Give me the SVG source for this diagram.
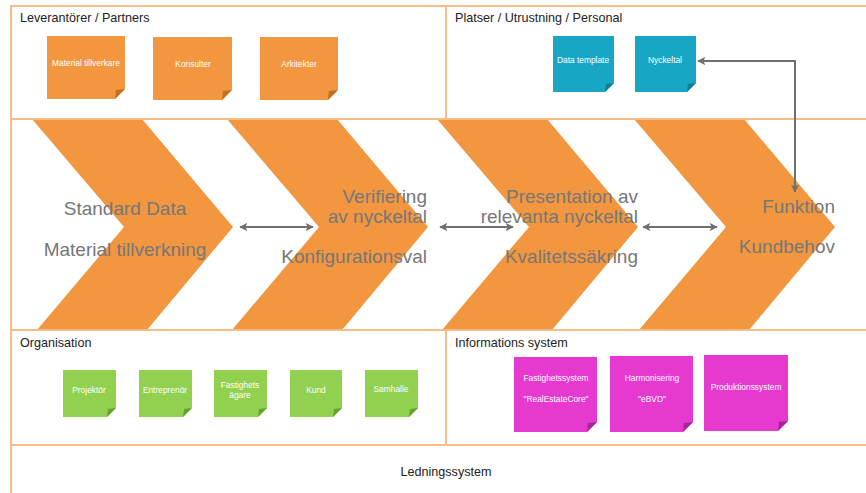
<svg xmlns="http://www.w3.org/2000/svg" width="866" height="493" viewBox="0 0 866 493">
  <style>
    .frame { fill: none; stroke: #f8bd86; stroke-width: 2; }
    .chev { fill: #f2963f; }
    .title { font-family: "Liberation Sans", Arial, sans-serif; font-size: 12.6px; fill: #222; }
    .big { font-family: "Liberation Sans", Arial, sans-serif; font-size: 19px; fill: #777; }
    .note-t { font-family: "Liberation Sans", Arial, sans-serif; font-size: 8.4px; fill: #fff; text-anchor: middle; }
    .orange { fill: #f2963f; }
    .orange-f { fill: #c0701f; }
    .teal { fill: #17a6c4; }
    .teal-f { fill: #0e7d94; }
    .green { fill: #92d050; }
    .green-f { fill: #64a32c; }
    .mag { fill: #e639d0; }
    .mag-f { fill: #a8229a; }
    .conn { fill: none; stroke: #707070; stroke-width: 2; }
  </style>
  <defs>
    <marker id="ah" viewBox="0 0 10 10" refX="9" refY="5" markerWidth="4" markerHeight="4" orient="auto-start-reverse" markerUnits="strokeWidth">
      <path d="M0,0 L10,5 L0,10 L2,5 z" fill="#707070"/>
    </marker>
    <path id="chevron" d="M0,119 L110,119 L201,227 L115,330 L5,330 L92,227 Z"/>
  </defs>

  <rect width="866" height="493" fill="#fff"/>

  <!-- chevron band -->
  <g id="chevrons">
    <use href="#chevron" class="chev" x="32"/>
    <use href="#chevron" class="chev" x="227"/>
    <use href="#chevron" class="chev" x="437"/>
    <use href="#chevron" class="chev" x="634"/>
  </g>

  <!-- section frame lines -->
  <g id="frame" class="frame">
    <line x1="11" y1="6" x2="866" y2="6"/>
    <line x1="11" y1="119" x2="866" y2="119"/>
    <line x1="11" y1="330" x2="866" y2="330"/>
    <line x1="11" y1="445" x2="866" y2="445"/>
    <line x1="11" y1="5" x2="11" y2="493"/>
    <line x1="446" y1="6" x2="446" y2="119"/>
    <line x1="446" y1="330" x2="446" y2="445"/>
  </g>

  <!-- section titles -->
  <g id="titles" class="title">
    <text x="20" y="22">Leverantörer / Partners</text>
    <text x="455" y="22">Platser / Utrustning / Personal</text>
    <text x="20" y="347">Organisation</text>
    <text x="455" y="347">Informations system</text>
    <text x="446" y="476" text-anchor="middle">Ledningssystem</text>
  </g>

  <!-- chevron labels -->
  <g id="step1" class="big" text-anchor="middle">
    <text x="125" y="215">Standard Data</text>
    <text x="125" y="256">Material tillverkning</text>
  </g>
  <g id="step2" class="big" text-anchor="end">
    <text x="427" y="203">Verifiering</text>
    <text x="427" y="223">av nyckeltal</text>
    <text x="427" y="263">Konfigurationsval</text>
  </g>
  <g id="step3" class="big" text-anchor="end">
    <text x="638" y="203">Presentation av</text>
    <text x="638" y="223">relevanta nyckeltal</text>
    <text x="638" y="263">Kvalitetssäkring</text>
  </g>
  <g id="step4" class="big" text-anchor="end">
    <text x="835" y="213">Funktion</text>
    <text x="835" y="253">Kundbehov</text>
  </g>

  <!-- suppliers / partners -->
  <g id="n-material">
    <path class="orange" d="M47,36 h78 v53 l-10,10 h-68 z"/>
    <path class="orange-f" d="M115,99 L125,89 L116,90 z"/>
    <text class="note-t" x="86" y="66">Material tillverkare</text>
  </g>
  <g id="n-konsulter">
    <path class="orange" d="M153,37 h79 v53 l-10,10 h-69 z"/>
    <path class="orange-f" d="M222,100 L232,90 L223,91 z"/>
    <text class="note-t" x="193" y="67">Konsulter</text>
  </g>
  <g id="n-arkitekter">
    <path class="orange" d="M260,37 h78 v53 l-10,10 h-68 z"/>
    <path class="orange-f" d="M328,100 L338,90 L329,91 z"/>
    <text class="note-t" x="299" y="67">Arkitekter</text>
  </g>

  <!-- places / equipment -->
  <g id="n-datatemplate">
    <path class="teal" d="M553,36 h61 v47 l-9,9 h-52 z"/>
    <path class="teal-f" d="M605,92 L614,83 L606,84 z"/>
    <text class="note-t" x="583" y="63">Data template</text>
  </g>
  <g id="n-nyckeltal">
    <path class="teal" d="M635,36 h61 v47 l-9,9 h-52 z"/>
    <path class="teal-f" d="M687,92 L696,83 L688,84 z"/>
    <text class="note-t" x="665" y="63">Nyckeltal</text>
  </g>

  <!-- organisation -->
  <g id="n-projektor">
    <path class="green" d="M63,370 h53 v38 l-9,9 h-44 z"/>
    <path class="green-f" d="M107,417 L116,408 L108,409 z"/>
    <text class="note-t" x="89" y="393">Projektör</text>
  </g>
  <g id="n-entreprenor">
    <path class="green" d="M139,370 h53 v38 l-9,9 h-44 z"/>
    <path class="green-f" d="M183,417 L192,408 L184,409 z"/>
    <text class="note-t" x="165" y="393">Entreprenör</text>
  </g>
  <g id="n-fastighetsagare">
    <path class="green" d="M214,370 h53 v38 l-9,9 h-44 z"/>
    <path class="green-f" d="M258,417 L267,408 L259,409 z"/>
    <text class="note-t" x="240" y="388">Fastighets</text>
    <text class="note-t" x="240" y="398">ägare</text>
  </g>
  <g id="n-kund">
    <path class="green" d="M290,370 h52 v38 l-9,9 h-43 z"/>
    <path class="green-f" d="M333,417 L342,408 L334,409 z"/>
    <text class="note-t" x="316" y="393">Kund</text>
  </g>
  <g id="n-samhalle">
    <path class="green" d="M365,370 h53 v38 l-9,9 h-44 z"/>
    <path class="green-f" d="M409,417 L418,408 L410,409 z"/>
    <text class="note-t" x="391" y="392">Samhalle</text>
  </g>

  <!-- information systems -->
  <g id="n-fastighetssystem">
    <path class="mag" d="M514,357 h83 v65 l-10,10 h-73 z"/>
    <path class="mag-f" d="M587,432 L597,422 L588,423 z"/>
    <text class="note-t" x="556" y="381">Fastighetssystem</text>
    <text class="note-t" x="556" y="402">"RealEstateCore"</text>
  </g>
  <g id="n-harmonisering">
    <path class="mag" d="M610,356 h83 v66 l-10,10 h-73 z"/>
    <path class="mag-f" d="M683,432 L693,422 L684,423 z"/>
    <text class="note-t" x="652" y="381">Harmonisering</text>
    <text class="note-t" x="652" y="402">"eBVD"</text>
  </g>
  <g id="n-produktionssystem">
    <path class="mag" d="M704,355 h84 v66 l-10,10 h-74 z"/>
    <path class="mag-f" d="M778,431 L788,421 L779,422 z"/>
    <text class="note-t" x="746" y="390">Produktionssystem</text>
  </g>

  <!-- connectors -->
  <g id="connectors" class="conn">
    <line x1="240" y1="227" x2="313" y2="227" marker-start="url(#ah)" marker-end="url(#ah)"/>
    <line x1="440" y1="227" x2="513" y2="227" marker-start="url(#ah)" marker-end="url(#ah)"/>
    <line x1="643" y1="227" x2="717" y2="227" marker-start="url(#ah)" marker-end="url(#ah)"/>
    <polyline points="698,61 795,61 795,192" marker-start="url(#ah)" marker-end="url(#ah)"/>
  </g>
</svg>
